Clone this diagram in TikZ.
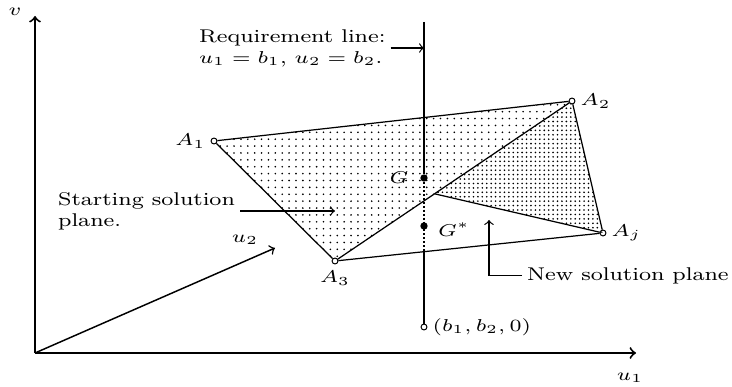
\documentclass[tikz,border=0pt]{standalone}
\usetikzlibrary{calc,patterns,positioning}

\pgfdeclarepatternformonly{sparse dots}{\pgfqpoint{-1pt}{-1pt}}{\pgfqpoint{1pt}{1pt}}{\pgfqpoint{2.8pt}{2.8pt}}%
  {\pgfpathcircle{\pgfqpoint{0pt}{0pt}}{.37pt}\pgfusepath{fill}}
\pgfdeclarepatternformonly{dense dots}{\pgfqpoint{-1pt}{-1pt}}{\pgfqpoint{1pt}{1pt}}{\pgfqpoint{1.8pt}{1.8pt}}%
  {\pgfpathcircle{\pgfqpoint{0pt}{0pt}}{.37pt}\pgfusepath{fill}}

\begin{document}
\begin{tikzpicture}[x=0.0143cm,y=-0.0143cm,
    lbl/.style={font=\fontsize{7.5}{8.6}\selectfont,xscale=1.23,inner sep=1.5pt},
    vtx/.style={circle,draw,fill=white,line width=0.4pt,inner sep=0pt,minimum size=2.4pt},
    gdot/.style={circle,fill,inner sep=0pt,minimum size=3pt},
    edge/.style={line width=0.5pt}]
  \useasboundingbox (0,0) rectangle (732,387);
  % axes
  \coordinate (O) at (35,353);
  \coordinate (U1) at (636,353);
  \coordinate (V) at (35,16);
  \coordinate (U2) at (275,248);
  \draw[line width=0.8pt,->] (O) -- (U1);
  \draw[line width=0.8pt,->] (O) -- (V);
  \draw[line width=0.6pt,->] (O) -- (U2);
  \node[lbl] (lv) at (15,12) {$v$};
  \node[lbl] (lu1) at (630,378) {$u_1$};
  \node[lbl] (lu2) at (245,240) {$u_2$};

  % planes
  \node[vtx] (A1) at (214,141) {};
  \node[vtx] (A2) at (572,101) {};
  \node[vtx] (A3) at (335,261) {};
  \node[vtx] (Aj) at (603,233) {};
  \coordinate (X) at ($(A3)!0.42!(A2)$);
  \fill[pattern=sparse dots] (A1.center) -- (A2.center) -- (A3.center) -- cycle;
  \fill[pattern=dense dots] (X) -- (A2.center) -- (Aj.center) -- cycle;
  \draw[edge] (A1) -- (A2) -- (A3) -- (A1);
  \draw[edge] (A3) -- (Aj) -- (A2);
  \draw[edge] (X) -- (Aj);
  \node[lbl,left=0pt of A1] (lA1) {$A_1$};
  \node[lbl,right=0pt of A2] (lA2) {$A_2$};
  \node[lbl,below=1pt of A3] (lA3) {$A_3$};
  \node[lbl,right=0pt of Aj] (lAj) {$A_j$};

  % requirement line
  \coordinate (Rtop) at (424,22);
  \coordinate (Rhid) at (424,251);
  \node[gdot] (G) at (424,178) {};
  \node[gdot] (Gs) at (424,226) {};
  \node[vtx] (B) at (424,327) {};
  \draw[line width=1.2pt] (Rtop) -- (G);
  \draw[line width=1.2pt,dash pattern=on 0.8pt off 0.8pt] (G) -- (Rhid);
  \draw[line width=1.2pt] (Rhid) -- (B);
  \node[lbl,left=2.5pt of G] (lG) {$G$};
  \node[lbl,right=2pt of Gs,yshift=-1.5pt] (lGs) {$G^*$};
  \node[lbl,right=0pt of B] (lB) {$(b_1,b_2,0)$};

  % notes
  \node[lbl,align=left,anchor=west] (req) at (194,48) {Requirement line:\\$u_1=b_1$, $u_2=b_2$.};
  \draw[edge,->] (req.east) -- (req.east -| Rtop);
  \coordinate (Sin) at (335,208);
  \node[lbl,align=left,anchor=west] (start) at (53,211) {Starting solution\\plane.};
  \draw[edge,->] (start.east) -- (start.east -| Sin);
  \coordinate (Nin) at (489,220);
  \node[lbl,anchor=base west] (new) at (522,280) {New solution plane};
  \draw[edge,->] (new.west) -| (Nin);
\end{tikzpicture}
\end{document}
